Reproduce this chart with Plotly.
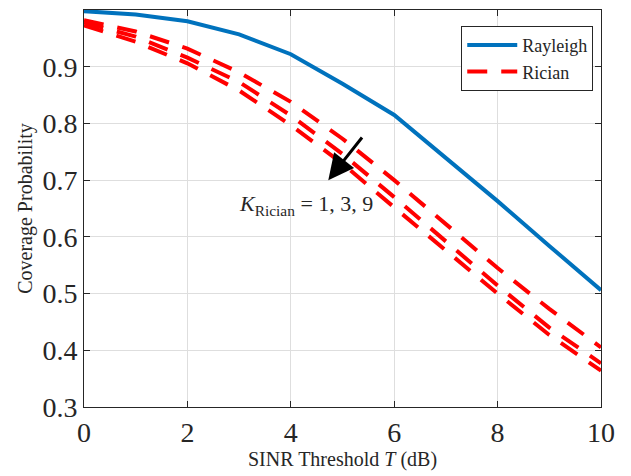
import plotly.graph_objects as go

T_dB = [0, 1, 2, 3, 4, 5, 6, 7, 8, 9, 10]
rayleigh = [0.998, 0.992, 0.980, 0.957, 0.922, 0.870, 0.815, 0.740, 0.663, 0.584, 0.506]
rician_k9 = [0.982, 0.962, 0.932, 0.890, 0.838, 0.773, 0.700, 0.622, 0.545, 0.473, 0.405]
rician_k3 = [0.978, 0.953, 0.916, 0.873, 0.814, 0.746, 0.670, 0.592, 0.514, 0.440, 0.377]
rician_k1 = [0.973, 0.944, 0.906, 0.858, 0.797, 0.729, 0.652, 0.576, 0.500, 0.427, 0.364]

x_ticks = [0, 2, 4, 6, 8, 10]
y_ticks = [0.3, 0.4, 0.5, 0.6, 0.7, 0.8, 0.9]

FONT = "Liberation Serif"
BLUE = "#0072BD"
RED = "#FF0000"
INK = "#262626"

fig = go.Figure()
fig.add_trace(go.Scatter(x=T_dB, y=rayleigh, mode="lines", name="Rayleigh",
                         line=dict(color=BLUE, width=4)))
for i, ys in enumerate([rician_k9, rician_k3, rician_k1]):
    fig.add_trace(go.Scatter(x=T_dB, y=ys, mode="lines", name="Rician",
                             showlegend=(i == 0),
                             line=dict(color=RED, width=4, dash="20px,14px")))

axis_common = dict(showline=True, mirror="ticks", linecolor=INK, linewidth=1,
                   ticks="inside", ticklen=6, tickcolor=INK, automargin=False,
                   showgrid=True, gridcolor="#DEDEDE", gridwidth=1, zeroline=False,
                   tickfont=dict(family=FONT, size=28, color=INK))

fig.update_xaxes(range=[0, 10], tickvals=x_ticks,
                 title=dict(text="SINR Threshold <i>T</i> (dB)",
                            font=dict(family=FONT, size=20, color=INK), standoff=2),
                 **axis_common)
fig.update_yaxes(range=[0.3, 1.0], tickvals=y_ticks, ticktext=[f"{v:.1f}" for v in y_ticks],
                 title=dict(text="Coverage Probability",
                            font=dict(family=FONT, size=20, color=INK), standoff=4),
                 **axis_common)

fig.add_annotation(x=4.725, y=0.70, ax=5.455, ay=0.784, xref="x", yref="y",
                   axref="x", ayref="y", showarrow=True, arrowhead=2, arrowsize=1.7,
                   arrowwidth=3, arrowcolor="black", text=" ")
fig.add_annotation(x=4.29, y=0.657, xref="x", yref="y", showarrow=False,
                   text="<i>K</i><sub>Rician</sub> = 1, 3, 9",
                   font=dict(family=FONT, size=22, color=INK))

fig.update_layout(
    template="none",
    font=dict(family=FONT, size=20, color=INK),
    width=623, height=468,
    margin=dict(l=76, r=30, t=2, b=69),
    plot_bgcolor="white", paper_bgcolor="white",
    legend=dict(x=0.985, y=0.96, xanchor="right", yanchor="top",
                bordercolor=INK, borderwidth=1, bgcolor="white",
                font=dict(family=FONT, size=18, color=INK),
                itemwidth=50, tracegroupgap=0),
)

fig.write_html("out.html")
